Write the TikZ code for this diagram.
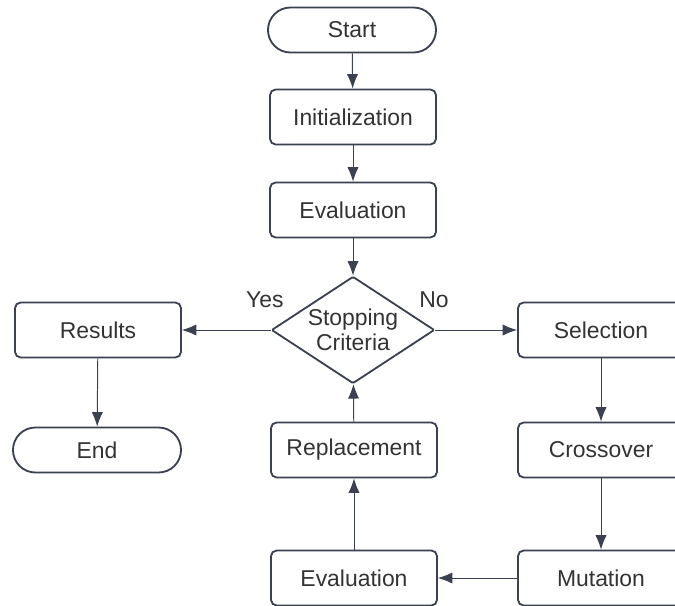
\documentclass[tikz,border=0pt]{standalone}
\usepackage{fontspec}
\setmainfont{Liberation Sans}
\usetikzlibrary{shapes.geometric,arrows.meta,positioning}

\definecolor{edgegray}{HTML}{3B4150}
\definecolor{textgray}{HTML}{333333}

\tikzset{
  box/.style={draw=edgegray, line width=1.3pt, rounded corners=4pt, fill=white,
    minimum width=4.15cm, minimum height=1.375cm, text=textgray,
    font=\fontsize{16.3}{19}\selectfont},
  terminal/.style={box, rounded corners=0.56cm, minimum width=4.2cm, minimum height=1.125cm},
  decision/.style={box, diamond, rounded corners=1pt, aspect=1.52, inner sep=0pt,
    minimum width=4.075cm, minimum height=2.675cm, align=center},
  flow/.style={draw=edgegray, line width=0.7pt, -{Latex[length=3.6mm,width=2.8mm]}},
  branch/.style={text=textgray, font=\fontsize{16.3}{19}\selectfont}
}

\begin{document}
\begin{tikzpicture}
  % 1. Frame (the reference is cut at the right and bottom)
  \clip (0,0) rectangle (16.875,-15.15);
  \fill[white] (0,0) rectangle (16.875,-15.15);

  % 2. Main column
  \node[terminal] (start) at (8.8,-0.75) {Start};
  \node[box] (init) at (8.825,-2.925) {Initialization};
  \node[box] (eval) at (8.825,-5.25) {Evaluation};
  \node[decision] (stop) at (8.825,-8.25) {Stopping\\[-1pt]Criteria};

  % Yes / No labels
  \node[branch] (yes) at (6.62,-7.5) {Yes};
  \node[branch] (no) at (10.85,-7.5) {No};

  % 3. Left side
  \node[box] (results) at (2.45,-8.25) {Results};
  \node[terminal] (end) at (2.425,-11.25) {End};

  % 4. Loop back
  \node[box] (replace) at (8.85,-11.25) {Replacement};
  \node[box] (reeval) at (8.85,-14.45) {Evaluation};

  % 5. Right side (operators)
  \node[box] (select) at (15.025,-8.25) {Selection};
  \node[box] (cross) at (15.025,-11.25) {Crossover};
  \node[box] (mutate) at (15.025,-14.45) {Mutation};

  % Connectors
  \draw[flow] (start) -- (init);
  \draw[flow] (init) -- (eval);
  \draw[flow] (eval) -- (stop);
  \draw[flow] (stop) -- (results);
  \draw[flow] (results) -- (end);
  \draw[flow] (stop) -- (select);
  \draw[flow] (select) -- (cross);
  \draw[flow] (cross) -- (mutate);
  \draw[flow] (mutate) -- (reeval);
  \draw[flow] (reeval) -- (replace);
  \draw[flow] (replace) -- (stop);
\end{tikzpicture}
\end{document}
